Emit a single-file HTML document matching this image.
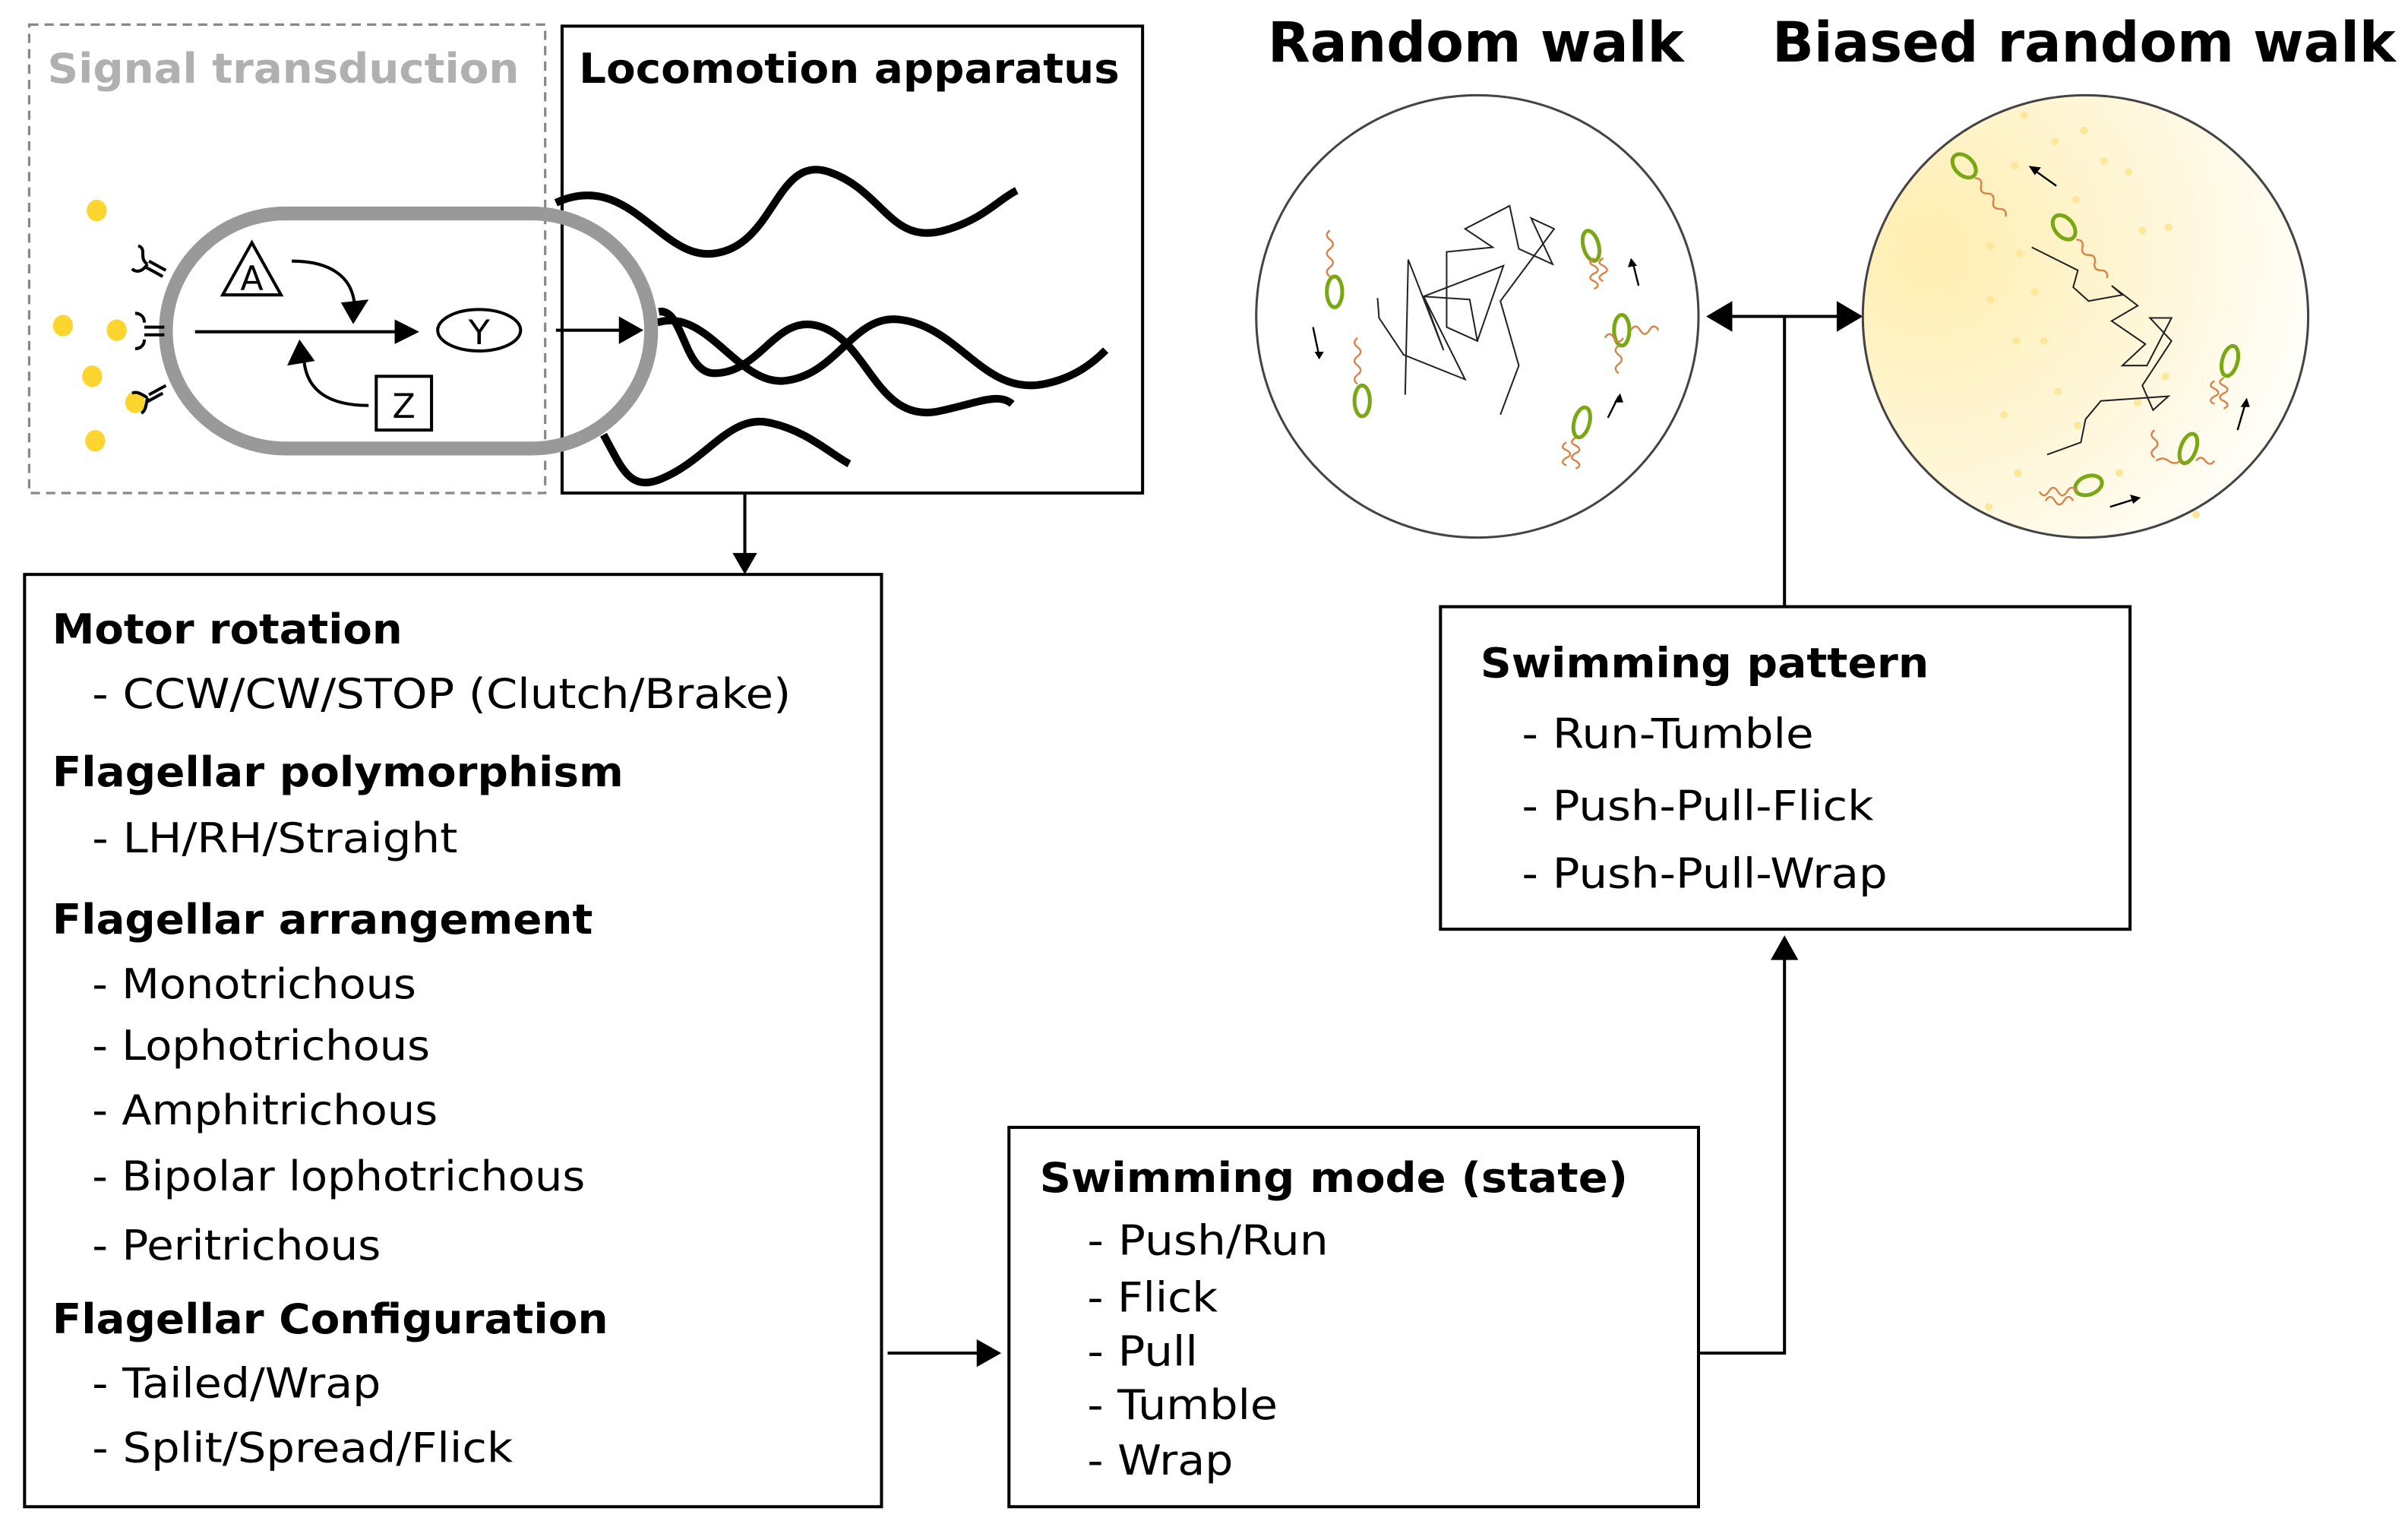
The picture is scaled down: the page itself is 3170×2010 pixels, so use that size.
<!DOCTYPE html>
<html><head><meta charset="utf-8"><style>
html,body{margin:0;padding:0;background:#fff;}
svg{display:block;}
text{font-family:"DejaVu Sans","Liberation Sans",sans-serif;}
.b{font-weight:bold;font-size:27px;}
.n{font-size:27px;}
</style></head><body>
<svg width="3170" height="2010" viewBox="0 0 1568 994.2" xmlns="http://www.w3.org/2000/svg">
<defs>
<radialGradient id="yg" cx="0.15" cy="0.35" r="0.95">
<stop offset="0" stop-color="#ffeeb0"/><stop offset="0.5" stop-color="#fff6d6"/><stop offset="1" stop-color="#ffffff"/>
</radialGradient>
</defs>
<rect x="19" y="16" width="336" height="305" fill="none" stroke="#888" stroke-width="1.6" stroke-dasharray="6,4"/>
<text x="31" y="54" class="b" fill="#b0b0b0" textLength="307" lengthAdjust="spacingAndGlyphs">Signal transduction</text>
<rect x="366" y="17" width="378" height="304" fill="none" stroke="#000" stroke-width="2"/>
<text x="377" y="54" class="b" textLength="352" lengthAdjust="spacingAndGlyphs">Locomotion apparatus</text>
<g fill="none" stroke="#000" stroke-width="5" stroke-linecap="butt">
<path d="M362,132 C410,110 430,170 465,165 C505,160 505,100 540,112 C575,124 580,160 615,150 C640,143 650,130 662,124"/>
<path d="M429,203 C445,200 445,243 465,243 C495,243 505,205 532,212 C565,220 570,275 610,268 C635,263 650,255 659,263"/>
<path d="M428,210 C460,200 480,250 510,248 C545,245 555,205 585,208 C625,212 640,258 680,250 C700,246 712,236 720,228"/>
<path d="M393,283 C405,305 410,320 430,312 C460,300 475,270 500,275 C525,280 540,295 553,302"/>
</g>
<rect x="108" y="139" width="316" height="153" rx="78" ry="78" fill="none" stroke="#999" stroke-width="9"/>
<g fill="#fdd52e">
<ellipse cx="63" cy="137" rx="6.5" ry="7"/><ellipse cx="41" cy="212" rx="6.5" ry="7"/><ellipse cx="76" cy="215" rx="6.5" ry="7"/>
<ellipse cx="60" cy="245" rx="6.5" ry="7"/><ellipse cx="88" cy="262" rx="6.5" ry="7"/><ellipse cx="62" cy="287" rx="6.5" ry="7"/>
</g>
<g fill="none" stroke="#000" stroke-width="2">
<path d="M108,176 L97,170 M106,180 L95,174 M96,172 C90,168 96,162 90,160 M96,172 C92,178 88,177 86,175"/>
<path d="M107,213 L94,213 M107,218 L94,218 M94,210 C94,205 90,204 88,204 M94,221 C94,226 90,227 88,227"/>
<path d="M108,251 L97,257 M106,256 L95,262 M96,259 C90,255 88,255 86,256 M96,259 C95,266 94,268 92,269"/>
</g>
<polygon points="164,158 145,192 183,192" fill="#fff" stroke="#000" stroke-width="2"/>
<text x="164" y="189" font-size="22" text-anchor="middle" textLength="15" lengthAdjust="spacingAndGlyphs">A</text>
<path d="M190,170 C215,170 230,180 231,200" fill="none" stroke="#000" stroke-width="2"/>
<polygon points="222,197 240,195 230,211" fill="#000"/>
<line x1="127" y1="216" x2="258" y2="216" stroke="#000" stroke-width="2"/>
<polygon points="257,208 273,216 257,224" fill="#000"/>
<ellipse cx="312" cy="215" rx="27" ry="13.5" fill="#fff" stroke="#000" stroke-width="2"/>
<text x="312" y="224" font-size="22" text-anchor="middle" textLength="14" lengthAdjust="spacingAndGlyphs">Y</text>
<rect x="245" y="245" width="36" height="35" fill="#fff" stroke="#000" stroke-width="2"/>
<text x="263" y="272" font-size="22" text-anchor="middle" textLength="15" lengthAdjust="spacingAndGlyphs">Z</text>
<path d="M240,264 C215,264 200,255 198,235" fill="none" stroke="#000" stroke-width="2"/>
<polygon points="187,238 205,235 195,221" fill="#000"/>
<line x1="362" y1="215" x2="405" y2="215" stroke="#000" stroke-width="2"/>
<polygon points="403,206 419,215 403,224" fill="#000"/>
<line x1="485" y1="321" x2="485" y2="362" stroke="#000" stroke-width="2"/>
<polygon points="477,360 485,374 493,360" fill="#000"/>
<rect x="16" y="374" width="558" height="607" fill="none" stroke="#000" stroke-width="2"/>
<text x="34" y="419" class="b" textLength="228" lengthAdjust="spacingAndGlyphs">Motor rotation</text>
<text x="60" y="461" class="n" textLength="455" lengthAdjust="spacingAndGlyphs">- CCW/CW/STOP (Clutch/Brake)</text>
<text x="34" y="512" class="b" textLength="372" lengthAdjust="spacingAndGlyphs">Flagellar polymorphism</text>
<text x="60" y="555" class="n" textLength="238" lengthAdjust="spacingAndGlyphs">- LH/RH/Straight</text>
<text x="34" y="608" class="b" textLength="352" lengthAdjust="spacingAndGlyphs">Flagellar arrangement</text>
<text x="60" y="650" class="n" textLength="211" lengthAdjust="spacingAndGlyphs">- Monotrichous</text>
<text x="60" y="690" class="n" textLength="220" lengthAdjust="spacingAndGlyphs">- Lophotrichous</text>
<text x="60" y="732" class="n" textLength="225" lengthAdjust="spacingAndGlyphs">- Amphitrichous</text>
<text x="60" y="775" class="n" textLength="321" lengthAdjust="spacingAndGlyphs">- Bipolar lophotrichous</text>
<text x="60" y="820" class="n" textLength="188" lengthAdjust="spacingAndGlyphs">- Peritrichous</text>
<text x="34" y="868" class="b" textLength="362" lengthAdjust="spacingAndGlyphs">Flagellar Configuration</text>
<text x="60" y="910" class="n" textLength="188" lengthAdjust="spacingAndGlyphs">- Tailed/Wrap</text>
<text x="60" y="952" class="n" textLength="274" lengthAdjust="spacingAndGlyphs">- Split/Spread/Flick</text>
<line x1="578" y1="881" x2="638" y2="881" stroke="#000" stroke-width="2"/>
<polygon points="636,872 652,881 636,890" fill="#000"/>
<rect x="657" y="734" width="449" height="247" fill="none" stroke="#000" stroke-width="2"/>
<text x="677" y="776" class="b" textLength="383" lengthAdjust="spacingAndGlyphs">Swimming mode (state)</text>
<text x="708" y="817" class="n" textLength="157" lengthAdjust="spacingAndGlyphs">- Push/Run</text>
<text x="708" y="854" class="n" textLength="85" lengthAdjust="spacingAndGlyphs">- Flick</text>
<text x="708" y="889" class="n" textLength="72" lengthAdjust="spacingAndGlyphs">- Pull</text>
<text x="708" y="924" class="n" textLength="124" lengthAdjust="spacingAndGlyphs">- Tumble</text>
<text x="708" y="960" class="n" textLength="95" lengthAdjust="spacingAndGlyphs">- Wrap</text>
<polyline points="1106,881 1162,881 1162,623" fill="none" stroke="#000" stroke-width="2"/>
<polygon points="1153,625 1162,609 1171,625" fill="#000"/>
<rect x="938" y="395" width="449" height="210" fill="none" stroke="#000" stroke-width="2"/>
<text x="964" y="441" class="b" textLength="292" lengthAdjust="spacingAndGlyphs">Swimming pattern</text>
<text x="991" y="487" class="n" textLength="190" lengthAdjust="spacingAndGlyphs">- Run-Tumble</text>
<text x="991" y="534" class="n" textLength="229" lengthAdjust="spacingAndGlyphs">- Push-Pull-Flick</text>
<text x="991" y="578" class="n" textLength="238" lengthAdjust="spacingAndGlyphs">- Push-Pull-Wrap</text>
<line x1="1162" y1="395" x2="1162" y2="206" stroke="#000" stroke-width="2"/>
<line x1="1125" y1="206" x2="1200" y2="206" stroke="#000" stroke-width="2"/>
<polygon points="1128,196 1111,206 1128,216" fill="#000"/>
<polygon points="1196,196 1213,206 1196,216" fill="#000"/>
<text x="961" y="40" font-size="36" font-weight="bold" text-anchor="middle" textLength="271" lengthAdjust="spacingAndGlyphs">Random walk</text>
<text x="1357" y="40" font-size="36" font-weight="bold" text-anchor="middle" textLength="406" lengthAdjust="spacingAndGlyphs">Biased random walk</text>
<ellipse cx="962" cy="206" rx="144" ry="144" fill="#fff" stroke="#444" stroke-width="1.5"/>
<path d="M915,257 L917,169 L940,228 L927,193 L957,195 L962,222 L942,213 L942,164 L972,161 L954,149 L983,134 L989,162 L1011,172 L997,142 L1012,149 L977,196 L989,238 L977,270 M897,194 L898,207 L914,231 L954,247 L927,193 L979,173 L962,222" fill="none" stroke="#222" stroke-width="1"/>
<g fill="none" stroke="#7aa814" stroke-width="2.5">
<ellipse cx="869" cy="190" rx="5" ry="10"/><ellipse cx="887" cy="261" rx="5" ry="10"/>
<ellipse cx="1036" cy="160" rx="5" ry="10" transform="rotate(-15 1036 160)"/><ellipse cx="1056" cy="215" rx="5" ry="10"/>
<ellipse cx="1030" cy="275" rx="5" ry="10" transform="rotate(15 1030 275)"/>
</g>
<g fill="none" stroke="#d9834a" stroke-width="1.2">
<path d="M866,180 q-4,-3 0,-6 q4,-3 0,-6 q-4,-3 0,-6 q4,-3 0,-6 q-4,-3 0,-6"/>
<path d="M884,250 q-4,-3 0,-6 q4,-3 0,-6 q-4,-3 0,-6 q4,-3 0,-6 q-4,-3 0,-6"/>
<path d="M1038,168 q-5,3 0,5 q5,3 0,5 q-5,3 0,5 q5,3 0,5 M1044,168 q-5,3 0,5 q5,3 0,5 q-5,3 0,5"/>
<path d="M1045,220 q3,-5 6,0 q3,5 6,0 M1062,215 q3,-5 6,0 q3,5 6,0 q3,-5 6,0 M1054,225 q-4,3 0,6 q4,3 0,6 q-4,3 0,6"/>
<path d="M1026,285 q-5,3 0,5 q5,3 0,5 q-5,3 0,5 q5,3 0,5 M1020,288 q-5,3 0,5 q5,3 0,5 q-5,3 0,5"/>
</g>
<g stroke="#000" stroke-width="1.2">
<line x1="855" y1="213" x2="859" y2="232"/><line x1="1067" y1="186" x2="1063" y2="170"/><line x1="1047" y1="272" x2="1054" y2="258"/>
</g>
<g fill="#000"><polygon points="856,229 862,229 859,234"/><polygon points="1060,174 1066,173 1062,168"/><polygon points="1051,262 1057,262 1055,256"/></g>
<ellipse cx="1358" cy="206" rx="145" ry="144" fill="url(#yg)" stroke="#444" stroke-width="1.5"/>
<g fill="#fde79a">
<circle cx="1318" cy="75" r="2.5"/><circle cx="1357" cy="85" r="2.5"/><circle cx="1338" cy="92" r="2.5"/><circle cx="1370" cy="105" r="2.5"/>
<circle cx="1312" cy="108" r="2.5"/><circle cx="1296" cy="160" r="2.5"/><circle cx="1315" cy="165" r="2.5"/><circle cx="1325" cy="190" r="2.5"/>
<circle cx="1296" cy="195" r="2.5"/><circle cx="1386" cy="112" r="2.5"/><circle cx="1412" cy="148" r="2.5"/><circle cx="1395" cy="150" r="2.5"/>
<circle cx="1313" cy="222" r="2.5"/><circle cx="1331" cy="222" r="2.5"/><circle cx="1305" cy="270" r="2.5"/><circle cx="1340" cy="255" r="2.5"/>
<circle cx="1314" cy="308" r="2.5"/><circle cx="1380" cy="308" r="2.5"/><circle cx="1295" cy="330" r="2.5"/><circle cx="1430" cy="335" r="2.5"/>
<circle cx="1353" cy="277" r="2.5"/><circle cx="1392" cy="262" r="2.5"/><circle cx="1410" cy="245" r="2.5"/><circle cx="1352" cy="130" r="2.5"/>
</g>
<path d="M1323,161 L1353,176 L1350,187 L1360,196 L1382,192 L1375,186 L1392,199 L1375,209 L1397,224 L1382,238 L1398,238 L1414,207 L1400,207 L1414,222 L1395,251 L1402,267 L1412,258 L1368,261 L1358,273 L1355,288 L1333,296" fill="none" stroke="#222" stroke-width="1"/>
<g fill="none" stroke="#7aa814" stroke-width="2.5">
<ellipse cx="1279" cy="108" rx="6" ry="9" transform="rotate(-45 1279 108)"/>
<ellipse cx="1344" cy="148" rx="6" ry="9" transform="rotate(-40 1344 148)"/>
<ellipse cx="1452" cy="235" rx="5" ry="10" transform="rotate(15 1452 235)"/>
<ellipse cx="1425" cy="292" rx="5" ry="10" transform="rotate(20 1425 292)"/>
<ellipse cx="1360" cy="316" rx="6" ry="9" transform="rotate(70 1360 316)"/>
</g>
<g fill="none" stroke="#d9834a" stroke-width="1.2">
<path d="M1286,116 q5,0 4,5 q-1,5 4,5 q5,0 4,5 q-1,5 4,5 q5,0 4,5"/>
<path d="M1352,156 q5,0 4,5 q-1,5 4,5 q5,0 4,5 q-1,5 4,5 q5,0 4,5"/>
<path d="M1448,246 q-5,3 0,5 q5,3 0,5 q-5,3 0,5 q5,3 0,5 M1442,248 q-5,3 0,5 q5,3 0,5 q-5,3 0,5"/>
<path d="M1420,300 q-4,3 -8,0 q-4,-3 -8,0 M1430,300 q3,-4 6,0 q3,4 6,0 M1403,280 q-4,3 0,6 q4,3 0,6 q-4,3 0,6"/>
<path d="M1352,320 q-3,-5 -6,0 q-3,5 -6,0 q-3,-5 -6,0 q-3,5 -6,0 M1350,326 q-3,-5 -6,0 q-3,5 -6,0 q-3,-5 -6,0"/>
</g>
<g stroke="#000" stroke-width="1.2">
<line x1="1339" y1="121" x2="1325" y2="111"/><line x1="1457" y1="280" x2="1462" y2="263"/><line x1="1374" y1="330" x2="1390" y2="325"/>
</g>
<g fill="#000"><polygon points="1321,108 1329,109 1325,114"/><polygon points="1459,265 1465,265 1463,259"/><polygon points="1387,322 1394,324 1389,328"/></g>
</svg>
</body></html>
